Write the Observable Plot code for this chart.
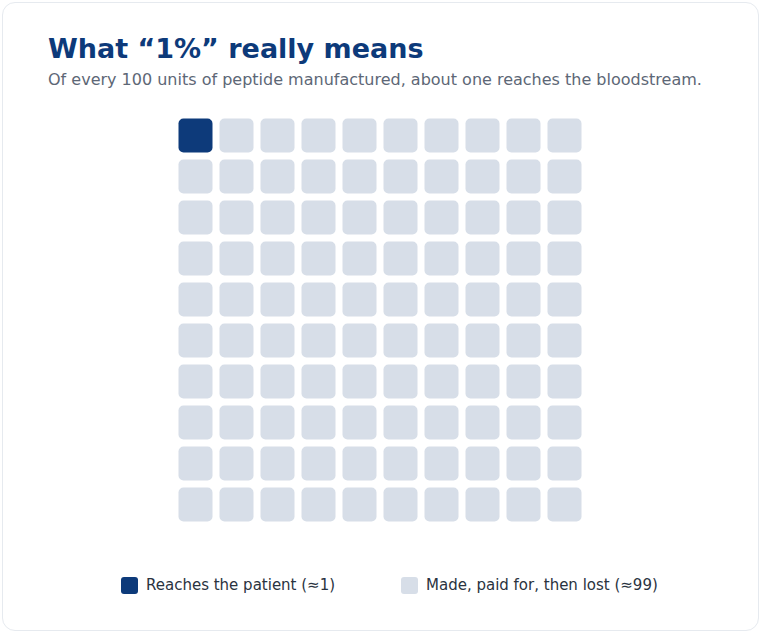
<!DOCTYPE html>
<html>
<head>
<meta charset="utf-8">
<script src="https://cdn.jsdelivr.net/npm/d3@7"></script>
<script src="https://cdn.jsdelivr.net/npm/@observablehq/plot@0.6"></script>
<style>
  html, body { margin: 0; padding: 0; background: #ffffff; }
  body { width: 761px; height: 633px; position: relative; overflow: hidden; font-family: "DejaVu Sans", sans-serif; }
  .card { position: absolute; left: 2px; top: 2px; width: 757px; height: 629px; border: 1px solid #e6eaef; border-radius: 13px; box-sizing: border-box; background: #fff; }
  .title { position: absolute; left: 48px; top: 35px; font-size: 27px; line-height: 27px; font-weight: bold; color: #0d3a7a; white-space: nowrap; }
  .subtitle { position: absolute; left: 48px; top: 72px; font-size: 16px; line-height: 16px; color: #5d6776; white-space: nowrap; }
  #chart { position: absolute; left: 0; top: 100px; }
  .legend-item { position: absolute; top: 576px; display: flex; align-items: center; font-size: 15px; line-height: 18px; color: #2a3340; white-space: nowrap; }
  .sw { width: 17px; height: 17px; border-radius: 3px; margin-right: 8px; }
</style>
</head>
<body>
<div class="card"></div>
<div class="title">What “1%” really means</div>
<div class="subtitle">Of every 100 units of peptide manufactured, about one reaches the bloodstream.</div>
<div id="chart"></div>
<div id="legend"></div>
<script>
const categories = ["Reaches the patient (≈1)", "Made, paid for, then lost (≈99)"];
const counts = [1, 99];
const colors = ["#0d3a7a", "#d7dee8"];
const columnsPerRow = 10;
const legendLeft = [121, 401];

const units = [];
categories.forEach((c, k) => {
  for (let j = 0; j < counts[k]; j++) units.push({category: c});
});
units.forEach((d, i) => { d.col = i % columnsPerRow; d.row = Math.floor(i / columnsPerRow); });

const plot = Plot.plot({
  width: 761,
  height: 440,
  marginLeft: 174.5,
  marginRight: 176.5,
  marginTop: 14.5,
  marginBottom: 15.5,
  x: {type: "band", padding: 0, axis: null, domain: d3.range(columnsPerRow)},
  y: {type: "band", padding: 0, axis: null, domain: d3.range(Math.ceil(units.length / columnsPerRow))},
  color: {domain: categories, range: colors},
  marks: [
    Plot.cell(units, {x: "col", y: "row", fill: "category", inset: 3.5, rx: 5, ry: 5})
  ]
});
document.getElementById("chart").appendChild(plot);

const legend = document.getElementById("legend");
categories.forEach((c, k) => {
  const item = document.createElement("div");
  item.className = "legend-item";
  item.style.left = legendLeft[k] + "px";
  const sw = document.createElement("span");
  sw.className = "sw";
  sw.style.background = colors[k];
  const label = document.createElement("span");
  label.textContent = c;
  item.appendChild(sw);
  item.appendChild(label);
  legend.appendChild(item);
});
</script>
</body>
</html>
